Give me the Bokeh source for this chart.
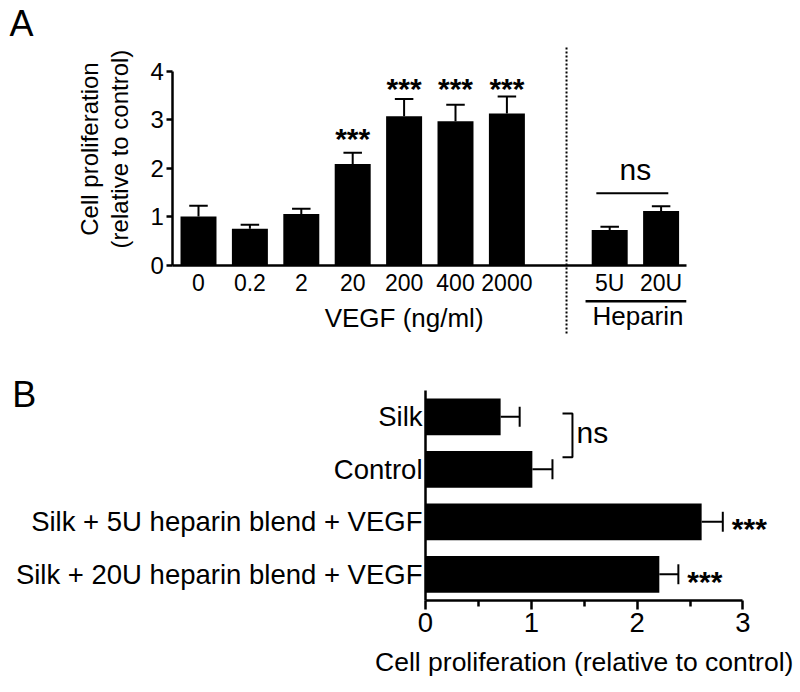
from math import pi
from bokeh.plotting import figure
from bokeh.models import Range1d, FixedTicker, ColumnDataSource
from bokeh.layouts import column
from bokeh.embed import file_html
from bokeh.resources import INLINE
from bokeh.core.properties import value

FONT = "Liberation Sans"

# ---------------- Panel A data ----------------
vegf_doses = ["0", "0.2", "2", "20", "200", "400", "2000"]
vegf_mean = [1.01, 0.755, 1.06, 2.09, 3.07, 2.97, 3.13]
vegf_err = [0.22, 0.085, 0.11, 0.23, 0.36, 0.34, 0.35]
vegf_sig = ["", "", "", "***", "***", "***", "***"]
vegf_sig_y = [None, None, None, 2.61, 3.64, 3.64, 3.64]
heparin_doses = ["5U", "20U"]
heparin_mean = [0.73, 1.12]
heparin_err = [0.07, 0.10]
a_yticks = [0, 1, 2, 3, 4]

# ---------------- Panel B data ----------------
b_groups = ["Silk", "Control", "Silk + 5U heparin blend + VEGF",
            "Silk + 20U heparin blend + VEGF"]
b_mean = [0.71, 1.01, 2.61, 2.21]
b_err = [0.18, 0.19, 0.20, 0.18]
b_sig = ["", "", "***", "***"]
b_xticks = [0, 1, 2, 3]
b_xminor = [0.5, 1.5, 2.5]


def style_axis(ax, size):
    ax.axis_line_width = 2.5
    ax.axis_line_color = "black"
    ax.major_tick_line_width = 2.5
    ax.minor_tick_line_width = 2.5
    ax.major_tick_line_color = "black"
    ax.minor_tick_line_color = "black"
    ax.major_tick_in = 0
    ax.minor_tick_in = 0
    ax.minor_tick_out = 0
    ax.major_label_text_font = FONT
    ax.major_label_text_font_size = size
    ax.major_label_text_color = "black"


def txt(p, x, y, t, size, align="center", bold=False, angle=0.0, **kw):
    p.text(x=x, y=y, text=t, text_align=align, text_baseline="alphabetic", angle=angle,
           text_font=value(FONT), text_font_size=size, text_color="black",
           text_font_style="bold" if bold else "normal", **kw)


def bare_figure(w, h, xr, yr):
    p = figure(width=w, height=h, x_range=Range1d(*xr), y_range=Range1d(*yr), title=None,
               toolbar_location=None, output_backend="svg", min_border=0,
               min_border_left=0, min_border_right=0, min_border_top=0, min_border_bottom=0)
    p.outline_line_color = None
    p.grid.visible = False
    p.background_fill_color = "white"
    p.border_fill_color = "white"
    return p


# ================= Panel A =================
A_W, A_H = 800, 350
A_X0, A_XU = 198.0, 51.4     # pixel x of first bar centre, pixels per category
A_Y0, A_YU = 265.0, 48.575   # pixel y of value 0, pixels per unit

vegf_x = list(range(len(vegf_doses)))
hep_x = [len(vegf_doses) + 1 + i for i in range(len(heparin_doses))]
all_x = vegf_x + hep_x
all_lab = vegf_doses + heparin_doses
all_mean = vegf_mean + heparin_mean
all_err = vegf_err + heparin_err
all_top = [m + e for m, e in zip(all_mean, all_err)]

pa = bare_figure(A_W, A_H, (-A_X0 / A_XU, (A_W - A_X0) / A_XU),
                 ((A_Y0 - A_H) / A_YU, A_Y0 / A_YU))

src_a = ColumnDataSource(dict(x=all_x, m=all_mean, t=all_top,
                              cl=[x - 0.18 for x in all_x], cr=[x + 0.18 for x in all_x]))
pa.vbar(x="x", top="m", width=0.7, source=src_a, fill_color="black", line_color=None)
pa.segment(x0="x", y0="m", x1="x", y1="t", source=src_a, line_color="black", line_width=2)
pa.segment(x0="cl", y0="t", x1="cr", y1="t", source=src_a, line_color="black", line_width=2)

star_x = [x for x, s in zip(vegf_x, vegf_sig) if s]
star_y = [y for y, s in zip(vegf_sig_y, vegf_sig) if s]
star_t = [s for s in vegf_sig if s]
txt(pa, star_x, star_y, star_t, "30px", bold=True)

# ns comparison of the heparin groups
hep_c = sum(hep_x) / len(hep_x)
pa.segment(x0=[hep_c - 0.76], y0=[1.488], x1=[hep_c + 0.64], y1=[1.488],
           line_color="black", line_width=2)
txt(pa, [hep_c], [1.978], ["ns"], "30px")

# group labels under the axis
txt(pa, [4.0], [-1.072], ["VEGF (ng/ml)"], "26px")
pa.segment(x0=[hep_x[0] - 0.47], y0=[-0.735], x1=[hep_x[-1] + 0.49], y1=[-0.735],
           line_color="black", line_width=2.5)
txt(pa, [hep_c + 0.05], [-1.045], ["Heparin"], "26px")

# dotted separator between the two groups
pa.segment(x0=[7.16], y0=[-1.40], x1=[7.16], y1=[4.486], line_color="black",
           line_width=2, line_dash="2 2")

# y axis title (two lines, rotated) and panel letter
txt(pa, [-2.119], [2.398], ["Cell proliferation"], "24px", angle=pi / 2)
txt(pa, [-1.529], [2.398], ["(relative to control)"], "24px", angle=pi / 2)
txt(pa, [-3.677], [4.974], ["A"], "36px", align="left")

xa = pa.xaxis[0]
style_axis(xa, "23px")
xa.fixed_location = 0
xa.bounds = (-0.5, len(all_x) + 0.5)
xa.ticker = FixedTicker(ticks=all_x)
xa.major_label_overrides = {x: l for x, l in zip(all_x, all_lab)}
xa.major_tick_out = 0
xa.major_label_standoff = 4

ya = pa.yaxis[0]
style_axis(ya, "24px")
ya.fixed_location = -0.5
ya.bounds = (0, 4)
ya.ticker = FixedTicker(ticks=a_yticks)
ya.major_tick_out = 6
ya.major_label_standoff = 3

# ================= Panel B =================
B_W, B_H = 800, 342
B_TOP = 350.0                 # page y of this figure's top
B_X0, B_XU = 425.0, 105.8     # pixel x of value 0, pixels per unit
B_YT, B_YU = 390.0, 52.5      # page y of the top of the category band, pixels per category

b_y = [len(b_groups) - 1 - i for i in range(len(b_groups))]
b_end = [m + e for m, e in zip(b_mean, b_err)]
top_c = len(b_groups) - 0.5

pb = bare_figure(B_W, B_H, (-B_X0 / B_XU, (B_W - B_X0) / B_XU),
                 (top_c - (B_TOP + B_H - B_YT) / B_YU, top_c + (B_YT - B_TOP) / B_YU))

src_b = ColumnDataSource(dict(y=b_y, m=b_mean, e=b_end,
                              cb=[y - 0.19 for y in b_y], ct=[y + 0.19 for y in b_y]))
pb.hbar(y="y", right="m", left=0, height=0.7, source=src_b, fill_color="black", line_color=None)
pb.segment(x0="m", y0="y", x1="e", y1="y", source=src_b, line_color="black", line_width=2)
pb.segment(x0="e", y0="cb", x1="e", y1="ct", source=src_b, line_color="black", line_width=2)

bs_x = [e for e, s in zip(b_end, b_sig) if s]
bs_y = [y for y, s in zip(b_y, b_sig) if s]
bs_t = [s for s in b_sig if s]
txt(pb, bs_x, bs_y, bs_t, "30px", align="left", bold=True, x_offset=9, y_offset=7)

# ns bracket between Silk and Control
pb.line(x=[1.295, 1.389, 1.389, 1.295], y=[3.062, 3.062, 2.230, 2.230],
        line_color="black", line_width=2)
txt(pb, [1.427], [2.696], ["ns"], "30px", align="left")

# x axis title and panel letter
txt(pb, [1.5], [-1.666], ["Cell proliferation (relative to control)"], "26.5px")
txt(pb, [-3.906], [3.424], ["B"], "36px", align="left")

xb = pb.xaxis[0]
style_axis(xb, "27.5px")
xb.fixed_location = -0.5
xb.bounds = (0, 3)
xb.ticker = FixedTicker(ticks=b_xticks, minor_ticks=b_xminor)
xb.major_tick_out = 9
xb.minor_tick_out = 6
xb.major_label_standoff = 3

yb = pb.yaxis[0]
style_axis(yb, "27.5px")
yb.fixed_location = 0
yb.bounds = (-0.5, top_c)
yb.ticker = FixedTicker(ticks=b_y)
yb.major_label_overrides = {y: g for y, g in zip(b_y, b_groups)}
yb.major_tick_out = 0
yb.major_label_standoff = 3

layout = column(pa, pb)
open("out.html", "w").write(file_html(layout, INLINE))
